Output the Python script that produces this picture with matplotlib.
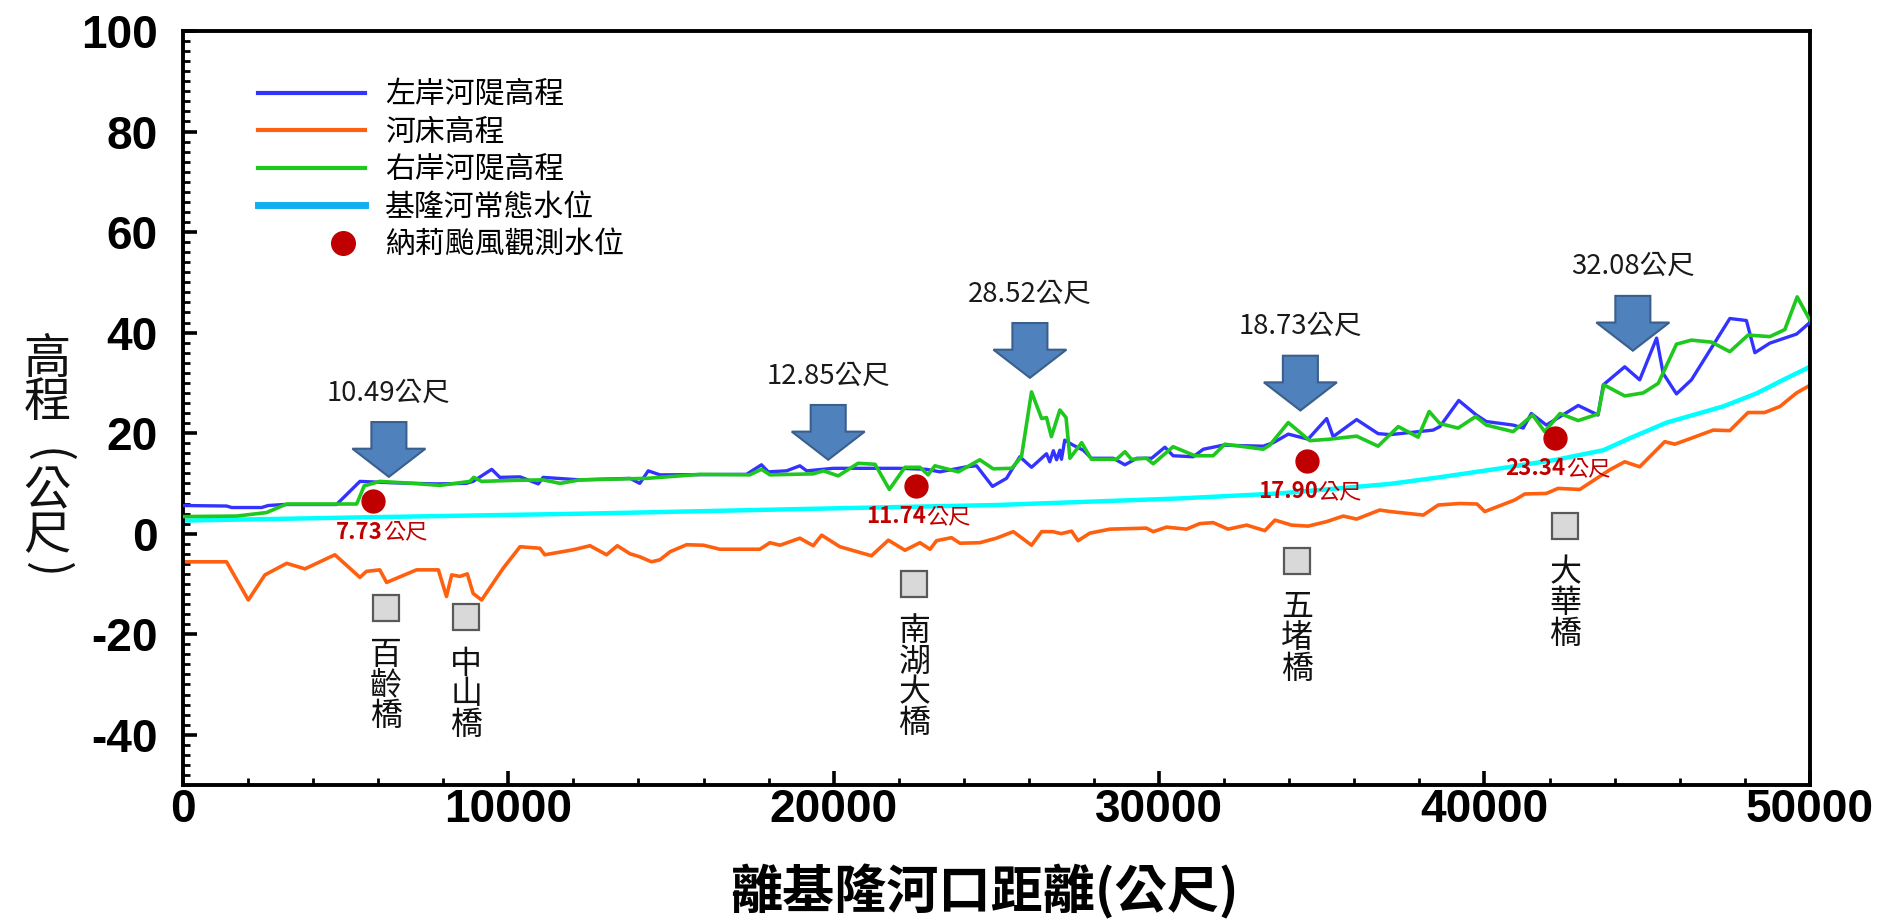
import matplotlib
matplotlib.use('Agg')
import matplotlib.pyplot as plt
from matplotlib.patches import FancyArrow
from matplotlib.lines import Line2D
from matplotlib.legend_handler import HandlerLine2D
from matplotlib.ticker import MultipleLocator

CJK = ['Noto Sans CJK TC', 'DejaVu Sans']
plt.rcParams['font.family'] = CJK
plt.rcParams['axes.unicode_minus'] = False

# ---------------- data ----------------
left_x = [0, 1340, 1500, 2420, 2620, 3100, 4720, 5440, 6500, 7800, 8700, 8920, 9490, 9740,
          10360, 10920, 11070, 12200, 13740, 14040, 14300, 14660, 17320, 17780, 17990, 18550,
          18960, 19170, 19990, 22030, 22850, 23260, 24080, 24390, 24880, 25310, 25720, 26080,
          26540, 26640, 26750, 26850, 26950, 27000, 27100, 27360, 27670, 27920, 28590, 28950,
          29310, 29770, 30180, 30430, 31050, 31360, 31970, 33200, 33510, 33970, 34580, 35150,
          35350, 36070, 36730, 37100, 38420, 38630, 39210, 39750, 40060, 40880, 41190, 41440,
          41900, 42880, 43490, 43650, 44310, 44770, 45290, 45490, 45900, 46360, 47540, 48050,
          48310, 48770, 49590, 50000]
left_y = [5.6, 5.5, 5.2, 5.2, 5.6, 5.8, 5.8, 10.4, 10.1, 9.9, 10.0, 10.4, 12.8, 11.2,
          11.3, 9.9, 11.2, 10.7, 11.0, 10.0, 12.5, 11.7, 11.8, 13.7, 12.3, 12.5,
          13.5, 12.5, 13.0, 13.0, 12.8, 12.3, 13.3, 13.5, 9.4, 11.0, 15.3, 13.2,
          15.9, 14.3, 16.5, 14.7, 16.6, 14.8, 18.6, 17.6, 16.6, 15.0, 15.0, 13.7,
          15.0, 15.0, 17.2, 15.5, 15.3, 16.8, 17.6, 17.4, 18.1, 19.8, 18.8, 22.9,
          19.3, 22.7, 19.9, 19.7, 20.6, 21.3, 26.5, 23.6, 22.3, 21.6, 21.0, 23.9,
          21.6, 25.5, 23.6, 29.6, 33.2, 30.6, 38.9, 31.9, 27.8, 30.6, 42.8, 42.4,
          36.0, 37.9, 39.7, 42.0]

bed_x = [0, 1340, 2010, 2520, 3190, 3750, 4670, 5440, 5640, 6050, 6260, 7180, 7850, 8100,
         8260, 8510, 8740, 8920, 9180, 9840, 10360, 10970, 11120, 12000, 12510, 13020, 13350,
         13740, 14040, 14400, 14660, 14970, 15480, 16000, 16500, 17730, 18040, 18350, 18960,
         19370, 19630, 20190, 21160, 21680, 22190, 22650, 22960, 23160, 23620, 23880, 24490,
         25000, 25520, 26080, 26390, 26740, 26990, 27310, 27510, 27870, 28490, 29610, 29820,
         30230, 30840, 31250, 31660, 32120, 32690, 33250, 33560, 34070, 34580, 35150, 35660,
         36070, 36780, 37100, 38120, 38580, 39240, 39770, 40010, 40930, 41240, 41900, 42260,
         42930, 43850, 44310, 44770, 45540, 45850, 46360, 47030, 47540, 48100, 48610, 49080,
         49590, 50000]
bed_y = [-5.6, -5.6, -13.2, -8.2, -5.9, -7.0, -4.2, -8.7, -7.5, -7.2, -9.7, -7.2, -7.2, -12.5,
         -8.2, -8.5, -8.0, -11.9, -13.2, -6.9, -2.6, -2.9, -4.2, -3.2, -2.4, -4.2, -2.4,
         -4.0, -4.6, -5.6, -5.2, -3.6, -2.2, -2.3, -3.1, -3.1, -1.8, -2.3, -0.9,
         -2.4, -0.3, -2.6, -4.4, -1.3, -3.3, -1.8, -3.1, -1.4, -0.8, -1.9, -1.8,
         -0.9, 0.4, -2.3, 0.4, 0.4, 0.0, 0.5, -1.4, 0.1, 0.9, 1.1, 0.4,
         1.3, 0.9, 2.0, 2.2, 0.9, 1.7, 0.6, 2.7, 1.7, 1.5, 2.4, 3.5,
         2.9, 4.7, 4.4, 3.7, 5.7, 6.0, 5.9, 4.4, 6.7, 7.9, 8.0, 9.0,
         8.8, 12.7, 14.3, 13.3, 18.3, 17.8, 19.0, 20.6, 20.5, 24.1, 24.1, 25.3,
         28.0, 29.5]

right_x = [0, 1650, 2570, 3190, 5340, 5570, 6050, 7080, 7900, 8820, 8940, 9180, 10150, 11070,
           11590, 12200, 14250, 15890, 17420, 17780, 18040, 19370, 19680, 20140, 20750, 21270,
           21710, 22190, 22650, 22900, 23110, 23830, 24490, 24900, 25470, 25770, 26080, 26390,
           26540, 26690, 26950, 27140, 27260, 27620, 27920, 28690, 28950, 29150, 29610, 29820,
           30430, 31100, 31660, 32020, 33200, 33400, 33970, 34630, 35250, 36070, 36730, 37350,
           37960, 38300, 38630, 39190, 39730, 40060, 40880, 41480, 41850, 42320, 42880, 43490,
           43670, 44310, 44880, 45340, 45900, 46360, 46980, 47540, 48100, 48770, 49230, 49610,
           50000]
right_y = [3.4, 3.5, 4.2, 5.9, 5.9, 9.5, 10.4, 10.0, 9.6, 10.4, 11.2, 10.4, 10.6, 10.7,
           10.0, 10.7, 11.0, 11.8, 11.7, 12.8, 11.7, 11.9, 12.5, 11.5, 14.0, 13.8,
           8.8, 13.2, 13.2, 11.7, 13.5, 12.3, 14.7, 12.9, 13.0, 15.3, 28.2, 22.9,
           23.1, 19.3, 24.6, 23.1, 15.0, 18.1, 14.8, 14.8, 16.3, 14.8, 15.0, 13.9,
           17.3, 15.5, 15.5, 17.8, 16.8, 17.6, 22.1, 18.5, 18.8, 19.4, 17.4, 21.3,
           19.2, 24.3, 21.9, 21.0, 23.3, 21.6, 20.3, 23.6, 20.3, 23.9, 22.5, 23.8,
           29.6, 27.4, 28.0, 29.9, 37.7, 38.5, 38.1, 36.2, 39.5, 39.2, 40.6, 47.1,
           42.5]

normal_x = [0, 6000, 12500, 19000, 25000, 30600, 33700, 37100, 38600, 40500, 42200, 43650,
            44470, 45600, 47330, 48360, 49180, 50000]
normal_y = [2.6, 3.3, 4.0, 4.9, 5.7, 7.0, 8.0, 9.9, 11.2, 13.0, 14.7, 16.6,
            19.0, 22.1, 25.3, 27.9, 30.6, 33.2]

obs_x = [5830, 22517, 34552, 42178]
obs_y = [6.4, 9.5, 14.5, 19.0]
obs_values = ['7.73', '11.74', '17.90', '23.34']

arrow_x = [6330, 19831, 26030, 34342, 44560]
arrow_tip = [11.3, 14.7, 31.0, 24.5, 36.4]
arrow_values = ['10.49', '12.85', '28.52', '18.73', '32.08']

bridge_x = [6238, 8706, 22475, 34245, 42485]
bridge_y = [-14.8, -16.6, -10.0, -5.4, 1.5]
bridge_names = ['百齡橋', '中山橋', '南湖大橋', '五堵橋', '大華橋']

series_labels = ['左岸河隄高程', '河床高程', '右岸河隄高程', '基隆河常態水位', '納莉颱風觀測水位']
unit = '公尺'
ylabel_parts = ['高程', '(', '公尺', ')']
xlabel = '離基隆河口距離(公尺)'

# ---------------- styles ----------------
C_BLUE = '#3333FF'
C_ORANGE = '#FF6010'
C_GREEN = '#1EC81E'
C_CYAN = '#00FFFF'
C_CYAN_LEG = '#10B0F0'
C_RED = '#C00000'

fig = plt.figure(figsize=(18.8, 9.19), dpi=100)
ax = fig.add_axes([0.0973, 0.1458, 0.8654, 0.8205])

ax.plot(bed_x, bed_y, color=C_ORANGE, lw=2.6, zorder=2)
ax.plot(normal_x, normal_y, color=C_CYAN, lw=3.2, zorder=2)
ax.plot(left_x, left_y, color=C_BLUE, lw=2.4, zorder=3)
ax.plot(right_x, right_y, color=C_GREEN, lw=2.6, zorder=4)
ax.plot(obs_x, obs_y, ls='none', marker='o', ms=16.5, color=C_RED, zorder=6)
ax.plot(bridge_x, bridge_y, ls='none', marker='s', ms=19, mfc='#D9D9D9', mec='#595959',
        mew=1.6, zorder=5)

# observed water level labels (bold number + regular unit)
for x, y, v in zip(obs_x, obs_y, obs_values):
    t1 = ax.annotate(v, xy=(x, y), xytext=(7.5, -22), textcoords='offset points',
                     ha='right', va='center', fontsize=16, fontweight='bold', color=C_RED,
                     zorder=7)
    ax.annotate(unit, xy=(1, 0), xycoords=t1, ha='left', va='bottom', fontsize=16,
                color=C_RED, zorder=7)

# block arrows with bank-height labels
ARROW_LEN = 10.9
for x, tip, v in zip(arrow_x, arrow_tip, arrow_values):
    ax.add_patch(FancyArrow(x, tip + ARROW_LEN, 0, -ARROW_LEN, width=1076, head_width=2243,
                            head_length=5.6, length_includes_head=True, fc='#4F81BD',
                            ec='#3A5F8C', lw=1.5, zorder=8))
    ax.annotate(v + unit, xy=(x, tip), xytext=(0, 60.5), textcoords='offset points',
                ha='center', va='center', fontsize=19.8, color='#1A1A1A', zorder=8)

# bridge names (stacked vertically)
for x, y, n in zip(bridge_x, bridge_y, bridge_names):
    ax.annotate('\n'.join(n), xy=(x, y), xytext=(0, -22), textcoords='offset points',
                ha='center', va='top', fontsize=23, linespacing=0.95, color='#111111')

# axes
ax.set_xlim(0, 50000)
ax.set_ylim(-50, 100)
ax.xaxis.set_major_locator(MultipleLocator(10000))
ax.xaxis.set_minor_locator(MultipleLocator(2000))
ax.yaxis.set_major_locator(MultipleLocator(20))
ax.yaxis.set_minor_locator(MultipleLocator(2))
ax.tick_params(which='both', direction='in', top=False, right=False)
ax.tick_params(which='major', length=10, width=2.6)
ax.tick_params(which='minor', length=5, width=2.0)
ax.tick_params(axis='x', which='major', pad=2, labelsize=33)
ax.tick_params(axis='y', which='major', pad=18, labelsize=33)
for lbl in ax.get_xticklabels() + ax.get_yticklabels():
    lbl.set_fontfamily('Liberation Sans')
    lbl.set_fontweight('bold')
for s in ax.spines.values():
    s.set_linewidth(2.8)

ax.set_xlabel(xlabel, fontsize=37.5, fontweight='bold', va='center')
ax.xaxis.set_label_coords(0.4925, -0.142)

# vertical y-axis title: upright characters, brackets turned sideways
YL_X = 0.025
yl_kw = dict(ha='center', va='center', fontsize=34, color='#111111')
fig.text(YL_X, 1 - 381 / 919, '\n'.join(ylabel_parts[0]), linespacing=0.86, **yl_kw)
fig.text(YL_X, 1 - 456 / 919, ylabel_parts[1], rotation=-90, **yl_kw)
fig.text(YL_X, 1 - 514 / 919, '\n'.join(ylabel_parts[2]), linespacing=0.86, **yl_kw)
fig.text(YL_X, 1 - 570 / 919, ylabel_parts[3], rotation=-90, **yl_kw)


class RightDotHandler(HandlerLine2D):
    def create_artists(self, legend, orig_handle, xdescent, ydescent, width, height,
                       fontsize, trans):
        arts = super().create_artists(legend, orig_handle, xdescent, ydescent, width,
                                      height, fontsize, trans)
        for a in arts:
            if a.get_marker() not in (None, 'None', ''):
                a.set_xdata([0.79 * width - xdescent])
        return arts


handles = [Line2D([], [], color=C_BLUE, lw=3),
           Line2D([], [], color=C_ORANGE, lw=3),
           Line2D([], [], color=C_GREEN, lw=3),
           Line2D([], [], color=C_CYAN_LEG, lw=5),
           Line2D([], [], ls='none', marker='o', ms=17, color=C_RED)]
ax.legend(handles, series_labels, loc='upper left', bbox_to_anchor=(0.046, 0.936),
          frameon=False, fontsize=21.5, handlelength=3.6, handletextpad=0.65,
          labelspacing=0.22, borderpad=0, borderaxespad=0,
          handler_map={handles[4]: RightDotHandler(numpoints=1)})

fig.savefig('out.png', dpi=100)
